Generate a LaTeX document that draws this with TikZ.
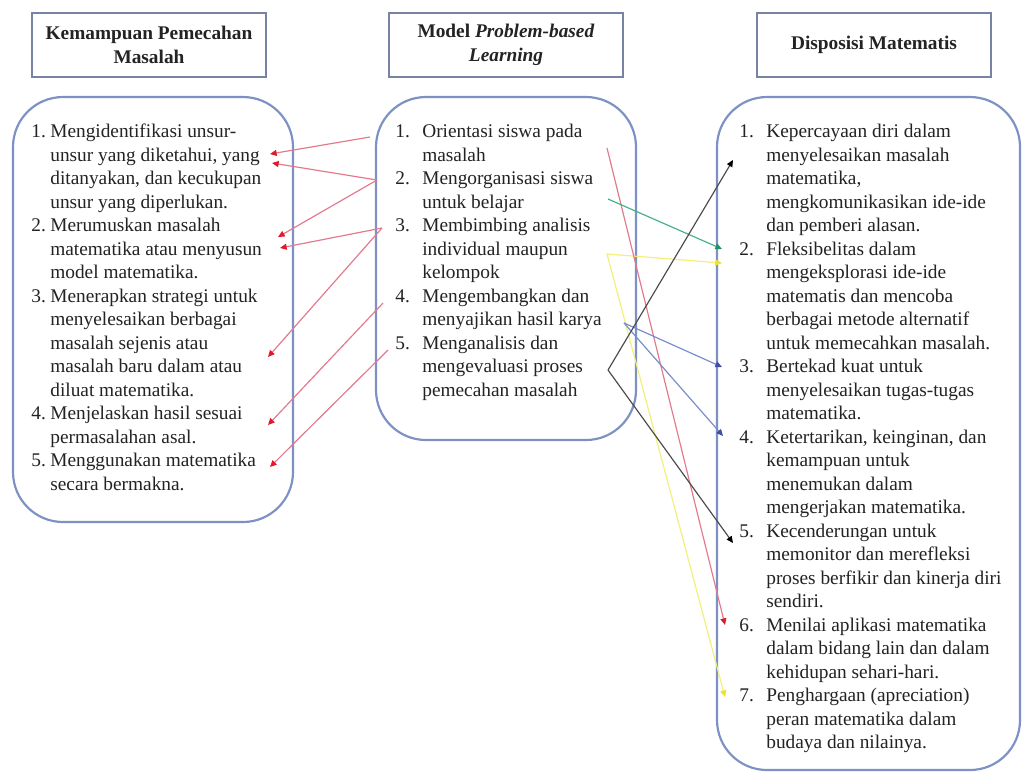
\documentclass[tikz,border=0pt]{standalone}
\usepackage{fontspec}
\setmainfont{Liberation Serif}
\usetikzlibrary{arrows.meta}
\definecolor{boxline}{RGB}{125,145,195}
\definecolor{hdrline}{RGB}{120,130,165}
\definecolor{txt}{RGB}{35,35,35}
\definecolor{redline}{RGB}{228,120,140}
\definecolor{redtip}{RGB}{225,25,45}
\definecolor{greenline}{RGB}{70,175,140}
\definecolor{greentip}{RGB}{30,150,100}
\definecolor{yelline}{RGB}{242,240,120}
\definecolor{yeltip}{RGB}{240,225,40}
\definecolor{blueline}{RGB}{120,140,205}
\definecolor{bluetip}{RGB}{60,80,170}
\definecolor{darkline}{RGB}{75,75,75}
\tikzset{
  hdr/.style={draw=hdrline, line width=0.9pt, align=center, text=txt,
    font=\bfseries\fontsize{11.6}{14.1}\selectfont,
    minimum width=140.4pt, minimum height=38.4pt, inner sep=0pt},
  bigbox/.style={draw=boxline, line width=1.3pt, rounded corners=30pt, fill=white, inner sep=0pt},
  itm/.style={anchor=base west, inner sep=0pt, text=txt, font=\fontsize{11.6}{14.1}\selectfont},
  conn/.style={line width=0.7pt},
  redc/.style={conn, draw=redline, -{Triangle[length=4pt,width=3.6pt,color=redtip]}},
  greenc/.style={conn, draw=greenline, -{Triangle[length=4pt,width=3.6pt,color=greentip]}},
  yelc/.style={conn, draw=yelline, -{Triangle[length=4pt,width=3.6pt,color=yeltip]}},
  bluec/.style={conn, draw=blueline, -{Triangle[length=4pt,width=3.6pt,color=bluetip]}},
  darkc/.style={conn, draw=darkline, -{Triangle[length=4pt,width=3.6pt,color=black]}},
}
\newcommand\linesof[1]{\begin{tabular}[t]{@{}l@{}}#1\end{tabular}}
\begin{document}
\begin{tikzpicture}[x=0.6pt,y=-0.6pt]
\useasboundingbox (0,0) rectangle (1023,776);
\path[fill=white] (0,0) rectangle (1023,776);

% headers
\node[hdr] (hL) at (149,45) {Kemampuan Pemecahan\\Masalah};
\node[hdr] (hM) at (506,45) {Model \textit{Problem-based}\\\textit{Learning}};
\node[hdr] (hR) at (874,45) {Disposisi Matematis};

% big boxes
\node[bigbox, minimum width=168pt, minimum height=255pt] (bL) at (153,309.5) {};
\node[bigbox, minimum width=156pt, minimum height=205.8pt] (bM) at (506,268.5) {};
\node[bigbox, minimum width=181.8pt, minimum height=403.8pt] (bR) at (868.5,433.5) {};

% left items
\node[itm] (l1n) at (31,137.5) {1.};
\node[itm] (l1) at (50,137.5) {\linesof{Mengidentifikasi unsur-\\unsur yang diketahui, yang\\ditanyakan, dan kecukupan\\unsur yang diperlukan.}};
\node[itm] (l2n) at (31,231.5) {2.};
\node[itm] (l2) at (50,231.5) {\linesof{Merumuskan masalah\\matematika atau menyusun\\model matematika.}};
\node[itm] (l3n) at (31,302) {3.};
\node[itm] (l3) at (50,302) {\linesof{Menerapkan strategi untuk\\menyelesaikan berbagai\\masalah sejenis atau\\masalah baru dalam atau\\diluat matematika.}};
\node[itm] (l4n) at (31,419.5) {4.};
\node[itm] (l4) at (50,419.5) {\linesof{Menjelaskan hasil sesuai\\permasalahan asal.}};
\node[itm] (l5n) at (31,466.5) {5.};
\node[itm] (l5) at (50,466.5) {\linesof{Menggunakan matematika\\secara bermakna.}};

% middle items
\node[itm] (m1n) at (395,137.5) {1.};
\node[itm] (m1) at (422,137.5) {\linesof{Orientasi siswa pada\\masalah}};
\node[itm] (m2n) at (395,184.5) {2.};
\node[itm] (m2) at (422,184.5) {\linesof{Mengorganisasi siswa\\untuk belajar}};
\node[itm] (m3n) at (395,231.5) {3.};
\node[itm] (m3) at (422,231.5) {\linesof{Membimbing analisis\\individual maupun\\kelompok}};
\node[itm] (m4n) at (395,302) {4.};
\node[itm] (m4) at (422,302) {\linesof{Mengembangkan dan\\menyajikan hasil karya}};
\node[itm] (m5n) at (395,349) {5.};
\node[itm] (m5) at (422,349) {\linesof{Menganalisis dan\\mengevaluasi proses\\pemecahan masalah}};

% right items
\node[itm] (r1n) at (739,137.5) {1.};
\node[itm] (r1) at (766,137.5) {\linesof{Kepercayaan diri dalam\\menyelesaikan masalah\\matematika,\\mengkomunikasikan ide-ide\\dan pemberi alasan.}};
\node[itm] (r2n) at (739,255) {2.};
\node[itm] (r2) at (766,255) {\linesof{Fleksibelitas dalam\\mengeksplorasi ide-ide\\matematis dan mencoba\\berbagai metode alternatif\\untuk memecahkan masalah.}};
\node[itm] (r3n) at (739,372.5) {3.};
\node[itm] (r3) at (766,372.5) {\linesof{Bertekad kuat untuk\\menyelesaikan tugas-tugas\\matematika.}};
\node[itm] (r4n) at (739,443) {4.};
\node[itm] (r4) at (766,443) {\linesof{Ketertarikan, keinginan, dan\\kemampuan untuk\\menemukan dalam\\mengerjakan matematika.}};
\node[itm] (r5n) at (739,537) {5.};
\node[itm] (r5) at (766,537) {\linesof{Kecenderungan untuk\\memonitor dan merefleksi\\proses berfikir dan kinerja diri\\sendiri.}};
\node[itm] (r6n) at (739,631) {6.};
\node[itm] (r6) at (766,631) {\linesof{Menilai aplikasi matematika\\dalam bidang lain dan dalam\\kehidupan sehari-hari.}};
\node[itm] (r7n) at (739,701.5) {7.};
\node[itm] (r7) at (766,701.5) {\linesof{Penghargaan (apreciation)\\peran matematika dalam\\budaya dan nilainya.}};

% connector end points
\coordinate (mA1) at (370,137);
\coordinate (mA2) at (377,180);
\coordinate (mA3) at (382,228);
\coordinate (mA4) at (383,303);
\coordinate (mA5) at (388,350);
\coordinate (lE1a) at (270,154);
\coordinate (lE1b) at (272,163);
\coordinate (lE2a) at (278,237);
\coordinate (lE2b) at (280,248);
\coordinate (lE3) at (268,357);
\coordinate (lE4) at (268,425);
\coordinate (lE5) at (270,467);

\coordinate (mR1) at (607,148);
\coordinate (mR2) at (608,199);
\coordinate (mR3) at (607,254);
\coordinate (mR4) at (624,323);
\coordinate (mR5) at (608,370);
\coordinate (rE1) at (733,160);
\coordinate (rE2a) at (722,249);
\coordinate (rE2b) at (722,263);
\coordinate (rE3) at (722,367);
\coordinate (rE4) at (723,436);
\coordinate (rE5) at (733,543);
\coordinate (rE6) at (725,625);
\coordinate (rE7) at (725,697);

% left connectors
\draw[redc] (mA1) -- (lE1a);
\draw[redc] (mA2) -- (lE1b);
\draw[redc] (mA2) -- (lE2a);
\draw[redc] (mA3) -- (lE2b);
\draw[redc] (mA3) -- (lE3);
\draw[redc] (mA4) -- (lE4);
\draw[redc] (mA5) -- (lE5);

% right connectors
\draw[yelc] (mR3) -- (rE2b);
\draw[yelc] (mR3) -- (rE7);
\draw[redc] (mR1) -- (rE6);
\draw[greenc] (mR2) -- (rE2a);
\draw[bluec] (mR4) -- (rE3);
\draw[bluec] (mR4) -- (rE4);
\draw[darkc] (mR5) -- (rE1);
\draw[darkc] (mR5) -- (rE5);
\end{tikzpicture}
\end{document}
